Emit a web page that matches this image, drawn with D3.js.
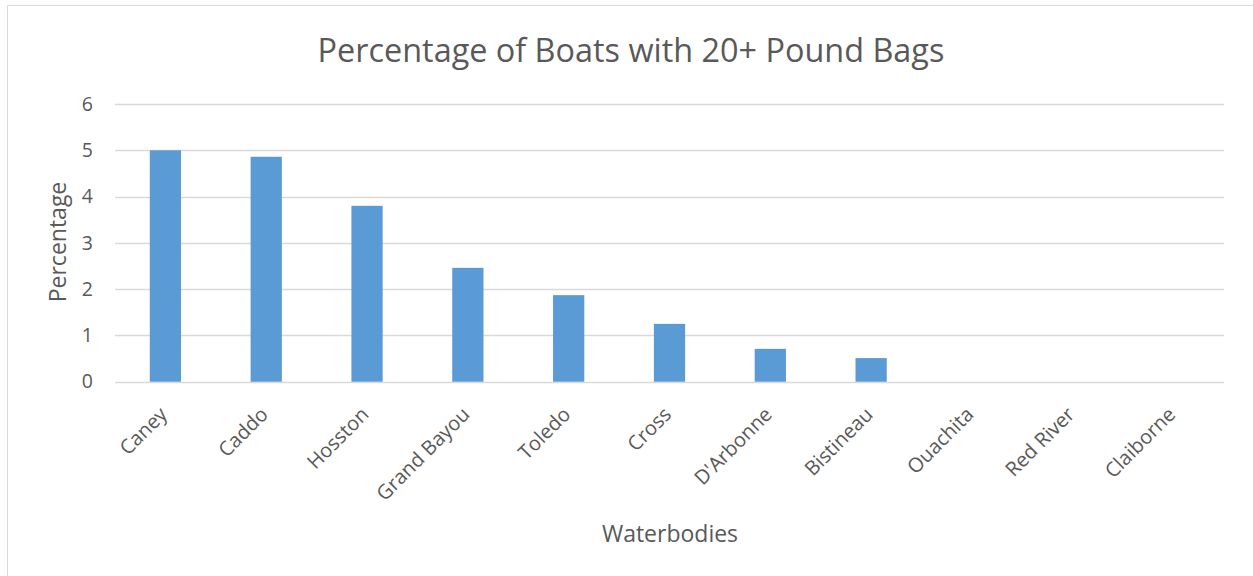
<!DOCTYPE html>
<html><head><meta charset="utf-8">
<script src="https://cdn.jsdelivr.net/npm/d3@7"></script>
<style>body{margin:0;background:#fff}svg{display:block}text{font-family:"Open Sans",sans-serif;fill:#595959}</style>
</head><body>
<script>
const categories = ["Caney","Caddo","Hosston","Grand Bayou","Toledo","Cross","D'Arbonne","Bistineau","Ouachita","Red River","Claiborne"];
const values = [5, 4.86, 3.8, 2.46, 1.87, 1.25, 0.71, 0.51, 0, 0, 0];
const yTicks = [0,1,2,3,4,5,6];
const title = "Percentage of Boats with 20+ Pound Bags";
const xTitle = "Waterbodies";
const yTitle = "Percentage";

const W = 1253, H = 576;
const svg = d3.select("body").append("svg").attr("width", W).attr("height", H);
svg.append("rect").attr("x",7.5).attr("y",5.5).attr("width",W+10).attr("height",H+10)
  .attr("fill","#fff").attr("stroke","#d9d9d9");

const x = d3.scaleBand().domain(categories).range([115, 1224]).paddingInner(0.69).paddingOuter(0.345);
const y = d3.scaleLinear().domain([0, 6]).range([381.7, 104]);

const grid = svg.append("g");
grid.selectAll("line").data(yTicks).join("line")
  .attr("x1",115).attr("x2",1224)
  .attr("y1",d=>Math.round(y(d))+0.5).attr("y2",d=>Math.round(y(d))+0.5)
  .attr("stroke","#d9d9d9").attr("stroke-width",1.5);

svg.append("g").selectAll("rect").data(values).join("rect")
  .attr("x",(d,i)=>x(categories[i]))
  .attr("width",x.bandwidth())
  .attr("y",d=>y(d))
  .attr("height",d=>y(0)-y(d))
  .attr("fill","#5b9bd5");

const yAxis = d3.axisLeft(y).tickValues(yTicks).tickFormat(d3.format("d")).tickSize(0).tickPadding(0);
const ya = svg.append("g").attr("transform","translate(93,0)").call(yAxis);
ya.select(".domain").remove();
ya.attr("font-size",null).attr("font-family",null);
ya.selectAll("text").style("font-size","19.5px").style("fill","#595959");

const xAxis = d3.axisBottom(x).tickSize(0).tickPadding(0);
const xa = svg.append("g").attr("transform",`translate(0,${y(0)})`).call(xAxis);
xa.select(".domain").remove();
xa.attr("font-size",null).attr("font-family",null);
xa.selectAll("text")
  .style("font-size","20px").style("fill","#595959")
  .attr("text-anchor","end").attr("dy",null).attr("y",0)
  .attr("transform","translate(3,34) rotate(-45)");

svg.append("text").attr("x",631).attr("y",62).attr("text-anchor","middle")
  .style("font-size","32.4px").text(title);
svg.append("text").attr("x",670).attr("y",541.5).attr("text-anchor","middle")
  .style("font-size","23px").text(xTitle);
svg.append("text").attr("transform","translate(66,242) rotate(-90)").attr("text-anchor","middle")
  .style("font-size","23px").text(yTitle);
</script>
</body></html>
